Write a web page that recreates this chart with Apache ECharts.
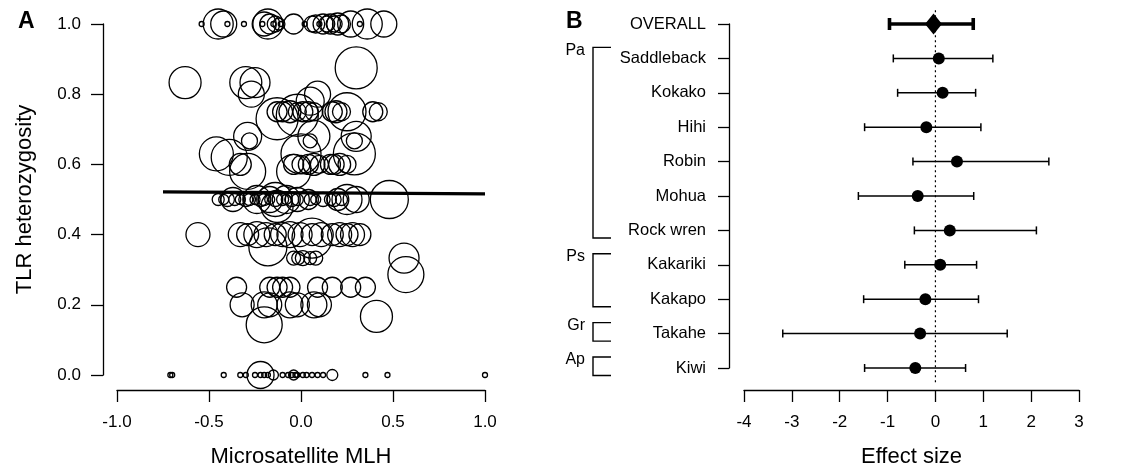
<!DOCTYPE html>
<html>
<head>
<meta charset="utf-8">
<script src="https://cdn.jsdelivr.net/npm/echarts@6/dist/echarts.min.js"></script>
<style>
  html, body { margin: 0; padding: 0; background: #fff; }
  #chart { width: 1146px; height: 473px; }
</style>
</head>
<body>
<div id="chart"></div>
<script>
// ---- panel A: [microsatellite MLH, TLR heterozygosity, circle size]
const bubbles = [
  // H = 1.0
  [-0.54, 1, 5], [-0.45, 1, 30], [-0.42, 1, 26], [-0.40, 1, 5], [-0.31, 1, 5],
  [-0.21, 1, 5], [-0.20, 1, 24], [-0.18, 1, 30], [-0.17, 1, 20], [-0.15, 1, 5],
  [-0.14, 1, 16], [-0.12, 1, 12], [-0.11, 1, 5], [-0.04, 1, 20], [0.02, 1, 5],
  [0.06, 1, 16], [0.08, 1, 18], [0.10, 1, 5], [0.12, 1, 20], [0.14, 1, 16],
  [0.16, 1, 20], [0.18, 1, 16], [0.20, 1, 22], [0.22, 1, 18], [0.27, 1, 26],
  [0.32, 1, 5], [0.36, 1, 30], [0.45, 1, 26],
  // 0.7 - 0.9
  [0.30, 0.875, 42],
  [-0.63, 0.833, 32], [-0.30, 0.833, 32], [-0.25, 0.833, 30], [-0.27, 0.80, 26],
  [0.09, 0.80, 26], [0.05, 0.78, 28],
  [-0.13, 0.75, 20], [-0.10, 0.75, 20], [-0.06, 0.75, 22], [-0.02, 0.75, 18],
  [0.01, 0.75, 20], [0.04, 0.75, 20], [0.07, 0.75, 18], [0.17, 0.75, 20],
  [0.19, 0.75, 22], [0.22, 0.75, 18], [0.39, 0.75, 20], [0.42, 0.75, 18],
  [-0.13, 0.73, 42], [-0.02, 0.74, 42], [0.25, 0.75, 38],
  // 0.55 - 0.7
  [-0.28, 0.667, 16], [0.05, 0.667, 14], [0.29, 0.667, 16],
  [-0.29, 0.68, 28], [0.30, 0.68, 30], [0.07, 0.68, 32],
  [-0.46, 0.63, 34], [-0.39, 0.62, 36], [0.29, 0.63, 42], [0.00, 0.63, 40],
  [-0.04, 0.6, 20], [0.00, 0.6, 18], [0.04, 0.6, 20], [0.07, 0.6, 22],
  [0.10, 0.6, 18], [0.16, 0.6, 20], [0.18, 0.6, 20], [0.21, 0.6, 22],
  [0.25, 0.6, 18], [-0.33, 0.6, 22],
  [-0.29, 0.58, 36], [-0.04, 0.58, 34],
  // H = 0.5
  [-0.45, 0.5, 12], [-0.42, 0.5, 10], [-0.40, 0.5, 14], [-0.36, 0.5, 12],
  [-0.33, 0.5, 10], [-0.30, 0.5, 14], [-0.28, 0.5, 12], [-0.25, 0.5, 10],
  [-0.22, 0.5, 14], [-0.20, 0.5, 12], [-0.17, 0.5, 10], [-0.14, 0.5, 14],
  [-0.10, 0.5, 12], [-0.08, 0.5, 10], [-0.05, 0.5, 14], [-0.02, 0.5, 12],
  [0.05, 0.5, 12], [0.08, 0.5, 10], [0.12, 0.5, 14], [0.16, 0.5, 12],
  [0.18, 0.5, 14], [0.22, 0.5, 12],
  [-0.37, 0.5, 24], [-0.24, 0.5, 28], [-0.17, 0.5, 26], [-0.08, 0.5, 28],
  [-0.02, 0.5, 24], [0.04, 0.5, 20], [0.20, 0.5, 22], [0.25, 0.5, 30],
  [0.30, 0.5, 26], [0.48, 0.5, 38], [-0.14, 0.5, 34], [-0.13, 0.48, 32],
  // H = 0.4
  [-0.56, 0.4, 24], [-0.33, 0.4, 24], [-0.29, 0.4, 22], [-0.24, 0.4, 26],
  [-0.19, 0.4, 24], [-0.14, 0.4, 22], [-0.10, 0.4, 24], [-0.06, 0.4, 26],
  [-0.005, 0.4, 24], [0.06, 0.4, 22], [0.11, 0.4, 24], [0.17, 0.4, 22],
  [0.21, 0.4, 24], [0.25, 0.4, 22], [0.28, 0.4, 24], [0.32, 0.4, 22],
  [-0.18, 0.365, 38], [0.06, 0.39, 40],
  // 0.25 - 0.35
  [-0.04, 0.333, 14], [-0.015, 0.333, 13], [0.01, 0.333, 15], [0.05, 0.333, 13],
  [0.08, 0.333, 14], [0.56, 0.333, 30], [0.57, 0.286, 36],
  [-0.35, 0.25, 20], [-0.17, 0.25, 20], [-0.13, 0.25, 20], [-0.10, 0.25, 20],
  [-0.06, 0.25, 20], [0.09, 0.25, 20], [0.17, 0.25, 20], [0.27, 0.25, 20],
  [0.35, 0.25, 20],
  // 0.1 - 0.2
  [-0.32, 0.2, 24], [-0.20, 0.2, 26], [-0.17, 0.2, 24], [-0.06, 0.2, 26],
  [-0.02, 0.2, 24], [0.07, 0.2, 26], [0.10, 0.2, 24],
  [-0.20, 0.143, 36], [0.41, 0.167, 32],
  // H = 0
  [-0.71, 0, 5], [-0.70, 0, 5], [-0.42, 0, 5], [-0.33, 0, 5], [-0.30, 0, 5],
  [-0.25, 0, 5], [-0.22, 0, 5], [-0.20, 0, 5], [-0.18, 0, 5], [-0.10, 0, 5],
  [-0.07, 0, 5], [-0.05, 0, 5], [-0.03, 0, 5], [-0.02, 0, 5], [0.01, 0, 5],
  [0.03, 0, 5], [0.06, 0, 5], [0.09, 0, 5], [0.12, 0, 5], [0.35, 0, 5],
  [0.47, 0, 5], [1.00, 0, 5],
  [-0.22, 0, 27], [-0.15, 0, 10], [-0.04, 0, 10], [0.17, 0, 11]
];
const fitLine = [[-0.75, 0.522], [1.0, 0.516]];

// ---- panel B: effect sizes with 95% CI
const species = ['OVERALL', 'Saddleback', 'Kokako', 'Hihi', 'Robin', 'Mohua',
  'Rock wren', 'Kakariki', 'Kakapo', 'Takahe', 'Kiwi'];
const effect = [-0.04, 0.07, 0.15, -0.19, 0.45, -0.37, 0.30, 0.10, -0.21, -0.32, -0.42];
const lower = [-0.96, -0.88, -0.79, -1.48, -0.47, -1.61, -0.44, -0.64, -1.50, -3.19, -1.48];
const upper = [0.79, 1.20, 0.84, 0.95, 2.37, 0.80, 2.11, 0.86, 0.90, 1.50, 0.63];
const groupNames = ['Pa', 'Ps', 'Gr', 'Ap'];
const groupFrom = [1, 7, 9, 10];
const groupTo = [6, 8, 9, 10];

const FONT = 'Liberation Sans, Arial, sans-serif';
const axisCommon = {
  axisLine: { show: true, onZero: false, lineStyle: { color: '#000', width: 1.3 } },
  axisTick: { show: true, length: 12, lineStyle: { color: '#000', width: 1.3 } },
  splitLine: { show: false },
  nameTextStyle: { color: '#000', fontSize: 22, fontFamily: FONT }
};
const labelCommon = { color: '#000', fontSize: 17, fontFamily: FONT, showMinLabel: true, showMaxLabel: true };

const chart = echarts.init(document.getElementById('chart'), null, { renderer: 'canvas' });

chart.setOption({
  animation: false,
  backgroundColor: '#fff',
  graphic: [
    { type: 'text', left: 18, top: 10, style: { text: 'A', font: 'bold 23px ' + FONT, fill: '#000' } },
    { type: 'text', left: 566, top: 10, style: { text: 'B', font: 'bold 23px ' + FONT, fill: '#000' } }
  ],
  grid: [
    { left: 117, top: 24, width: 368, height: 353 },
    { left: 744, top: 24, width: 335, height: 346 }
  ],
  xAxis: [
    Object.assign({}, axisCommon, {
      gridIndex: 0, type: 'value', min: -1, max: 1, interval: 0.5, offset: 15,
      axisLabel: Object.assign({}, labelCommon, { margin: 24, formatter: v => v.toFixed(1) }),
      name: 'Microsatellite MLH', nameLocation: 'middle', nameGap: 56
    }),
    Object.assign({}, axisCommon, {
      gridIndex: 1, type: 'value', min: -4, max: 3, interval: 1, offset: 22,
      axisLabel: Object.assign({}, labelCommon, { margin: 24 }),
      name: 'Effect size', nameLocation: 'middle', nameGap: 56
    })
  ],
  yAxis: [
    Object.assign({}, axisCommon, {
      gridIndex: 0, type: 'value', min: 0, max: 1, interval: 0.2, offset: 14,
      axisLabel: Object.assign({}, labelCommon, { margin: 22, formatter: v => v.toFixed(1) }),
      name: 'TLR heterozygosity', nameLocation: 'middle', nameGap: 67
    }),
    Object.assign({}, axisCommon, {
      gridIndex: 1, type: 'category', data: species, inverse: true, boundaryGap: false, offset: 15,
      axisTick: { show: true, length: 11, alignWithLabel: true, lineStyle: { color: '#000', width: 1.3 } },
      axisLabel: Object.assign({}, labelCommon, { fontSize: 16.5, margin: 23, interval: 0 })
    })
  ],
  series: [
    {
      type: 'scatter', xAxisIndex: 0, yAxisIndex: 0, silent: true,
      data: bubbles,
      symbolSize: d => d[2],
      itemStyle: { color: 'rgba(0,0,0,0)', borderColor: '#000', borderWidth: 1.3, opacity: 1 }
    },
    {
      type: 'line', xAxisIndex: 0, yAxisIndex: 0, silent: true, symbol: 'none', z: 3,
      data: fitLine,
      lineStyle: { color: '#000', width: 3.2 }
    },
    {
      // dotted zero line
      type: 'custom', xAxisIndex: 1, yAxisIndex: 1, silent: true, clip: false,
      data: [[0, 0]],
      renderItem: (params, api) => {
        const cs = params.coordSys;
        const step = cs.height / (species.length - 1);
        const x = api.coord([0, 0])[0];
        return {
          type: 'line',
          shape: { x1: x, y1: cs.y - 0.4 * step, x2: x, y2: cs.y + cs.height + 0.45 * step },
          style: { stroke: '#000', lineWidth: 1.2, lineDash: [2, 3] }
        };
      }
    },
    {
      // confidence intervals
      type: 'custom', xAxisIndex: 1, yAxisIndex: 1, silent: true, clip: false,
      data: species.map((s, i) => [lower[i], upper[i], i]),
      encode: { x: [0, 1], y: 2 },
      renderItem: (params, api) => {
        const i = api.value(2);
        const a = api.coord([api.value(0), i]);
        const b = api.coord([api.value(1), i]);
        const bold = i === 0;
        const h = bold ? 6 : 4;
        const style = { stroke: '#000', lineWidth: bold ? 3.6 : 1.5 };
        return {
          type: 'group',
          children: [
            { type: 'line', shape: { x1: a[0], y1: a[1], x2: b[0], y2: b[1] }, style: style },
            { type: 'line', shape: { x1: a[0], y1: a[1] - h, x2: a[0], y2: a[1] + h }, style: style },
            { type: 'line', shape: { x1: b[0], y1: b[1] - h, x2: b[0], y2: b[1] + h }, style: style }
          ]
        };
      }
    },
    {
      type: 'scatter', xAxisIndex: 1, yAxisIndex: 1, silent: true, z: 4,
      data: species.map((s, i) => ({
        value: [effect[i], i],
        symbol: i === 0 ? 'diamond' : 'circle',
        symbolSize: i === 0 ? [17, 21] : 12
      })),
      itemStyle: { color: '#000', opacity: 1 }
    },
    {
      // taxonomic group brackets
      type: 'custom', xAxisIndex: 1, yAxisIndex: 1, silent: true, clip: false,
      data: groupNames.map((g, i) => [-4, groupFrom[i], groupTo[i]]),
      encode: { x: 0, y: [1, 2] },
      renderItem: (params, api) => {
        const cs = params.coordSys;
        const step = cs.height / (species.length - 1);
        const y1 = api.coord([-4, api.value(1)])[1] - 0.32 * step;
        const y2 = api.coord([-4, api.value(2)])[1] + 0.22 * step;
        const xv = cs.x - 151, xh = cs.x - 133;
        return {
          type: 'group',
          children: [
            {
              type: 'polyline',
              shape: { points: [[xh, y1], [xv, y1], [xv, y2], [xh, y2]] },
              style: { stroke: '#000', lineWidth: 1.4, fill: null }
            },
            {
              type: 'text', x: cs.x - 159, y: y1 + 3,
              style: {
                text: groupNames[params.dataIndex], fill: '#000',
                font: '16px ' + FONT, align: 'right', verticalAlign: 'middle'
              }
            }
          ]
        };
      }
    }
  ]
});
</script>
</body>
</html>
